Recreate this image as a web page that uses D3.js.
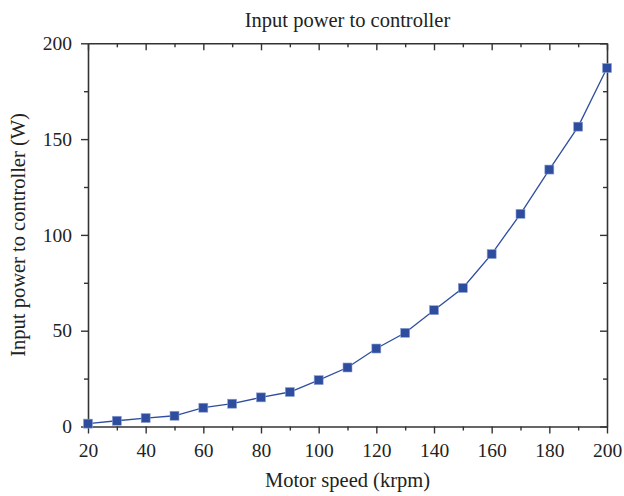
<!DOCTYPE html>
<html>
<head>
<meta charset="utf-8">
<script src="https://cdn.jsdelivr.net/npm/d3@7"></script>
<style>
  html, body { margin: 0; padding: 0; background: #fff; }
  text { font-family: "Liberation Serif", "DejaVu Serif", serif; fill: #222; }
</style>
</head>
<body>
<svg id="chart" width="624" height="496"></svg>
<script>
// Motor speed (krpm) and measured input power to the controller (W)
const speedKrpm = [20, 30, 40, 50, 60, 70, 80, 90, 100, 110, 120, 130, 140, 150, 160, 170, 180, 190, 200];
const powerW = [1.5, 3.0, 4.4, 5.6, 9.8, 11.9, 15.2, 18.0, 24.2, 30.8, 40.7, 48.9, 60.7, 72.3, 90.0, 111.0, 134.1, 156.5, 187.1];

const xMajorTicks = [20, 40, 60, 80, 100, 120, 140, 160, 180, 200];
const xMinorTicks = [30, 50, 70, 90, 110, 130, 150, 170, 190];
const yMajorTicks = [0, 50, 100, 150, 200];
const yMinorTicks = [25, 75, 125, 175];

const titleText = "Input power to controller";
const xLabel = "Motor speed (krpm)";
const yLabel = "Input power to controller (W)";

const margin = { left: 88, right: 17, top: 43.3, bottom: 69.5 };
const W = 624, H = 496;
const svg = d3.select("#chart");

const x = d3.scaleLinear().domain([20, 200]).range([margin.left, W - margin.right]);
const y = d3.scaleLinear().domain([0, 200]).range([H - margin.bottom, margin.top]);

const axisColor = "#333";
const seriesColor = "#2e4d9f";
const tickFont = 19.5;
const labelFont = 20.5;

function styleAxis(g) {
  g.select(".domain").attr("stroke", axisColor).attr("stroke-width", 1.6);
  g.selectAll(".tick line").attr("stroke", axisColor).attr("stroke-width", 1.4);
  g.selectAll(".tick text").style("font-size", tickFont + "px").attr("fill", "#222");
}

function minorTicks(g) {
  g.select(".domain").remove();
  g.selectAll("line").attr("stroke", axisColor).attr("stroke-width", 1.4);
}

// bottom axis: outward ticks with labels
const gx = svg.append("g").attr("transform", `translate(0,${y(0)})`)
  .call(d3.axisBottom(x).tickValues(xMajorTicks).tickSize(7).tickPadding(10).tickSizeOuter(0));
styleAxis(gx);
svg.append("g").attr("transform", `translate(0,${y(0)})`)
  .call(d3.axisBottom(x).tickValues(xMinorTicks).tickSize(4).tickFormat("").tickSizeOuter(0))
  .call(minorTicks);

// top axis: inward ticks, no labels
const gxt = svg.append("g").attr("transform", `translate(0,${y(200)})`)
  .call(d3.axisTop(x).tickValues(xMajorTicks).tickSize(-7).tickFormat("").tickSizeOuter(0));
styleAxis(gxt);
svg.append("g").attr("transform", `translate(0,${y(200)})`)
  .call(d3.axisTop(x).tickValues(xMinorTicks).tickSize(-4).tickFormat("").tickSizeOuter(0))
  .call(minorTicks);

// left axis: outward ticks with labels
const gy = svg.append("g").attr("transform", `translate(${x(20)},0)`)
  .call(d3.axisLeft(y).tickValues(yMajorTicks).tickSize(7).tickPadding(9).tickSizeOuter(0));
styleAxis(gy);
svg.append("g").attr("transform", `translate(${x(20)},0)`)
  .call(d3.axisLeft(y).tickValues(yMinorTicks).tickSize(4).tickFormat("").tickSizeOuter(0))
  .call(minorTicks);

// right axis: inward ticks, no labels
const gyr = svg.append("g").attr("transform", `translate(${x(200)},0)`)
  .call(d3.axisRight(y).tickValues(yMajorTicks).tickSize(-7).tickFormat("").tickSizeOuter(0));
styleAxis(gyr);
svg.append("g").attr("transform", `translate(${x(200)},0)`)
  .call(d3.axisRight(y).tickValues(yMinorTicks).tickSize(-4).tickFormat("").tickSizeOuter(0))
  .call(minorTicks);

// series line and square markers
const points = speedKrpm.map((s, i) => ({ s, p: powerW[i] }));
svg.append("path")
  .datum(points)
  .attr("fill", "none")
  .attr("stroke", seriesColor)
  .attr("stroke-width", 1.3)
  .attr("d", d3.line().x(d => x(d.s)).y(d => y(d.p)));

const m = 9;
svg.append("g").selectAll("rect")
  .data(points)
  .join("rect")
  .attr("x", d => x(d.s) - m / 2)
  .attr("y", d => y(d.p) - m / 2)
  .attr("width", m)
  .attr("height", m)
  .attr("fill", seriesColor)
  .attr("stroke", "#8fa3d6")
  .attr("stroke-width", 0.6);

// titles
svg.append("text")
  .attr("x", (x(20) + x(200)) / 2)
  .attr("y", 27)
  .attr("text-anchor", "middle")
  .style("font-size", labelFont + "px")
  .text(titleText);

svg.append("text")
  .attr("x", (x(20) + x(200)) / 2)
  .attr("y", 487)
  .attr("text-anchor", "middle")
  .style("font-size", labelFont + "px")
  .text(xLabel);

svg.append("text")
  .attr("transform", `translate(25,${(y(0) + y(200)) / 2}) rotate(-90)`)
  .attr("text-anchor", "middle")
  .style("font-size", labelFont + "px")
  .text(yLabel);
</script>
</body>
</html>
